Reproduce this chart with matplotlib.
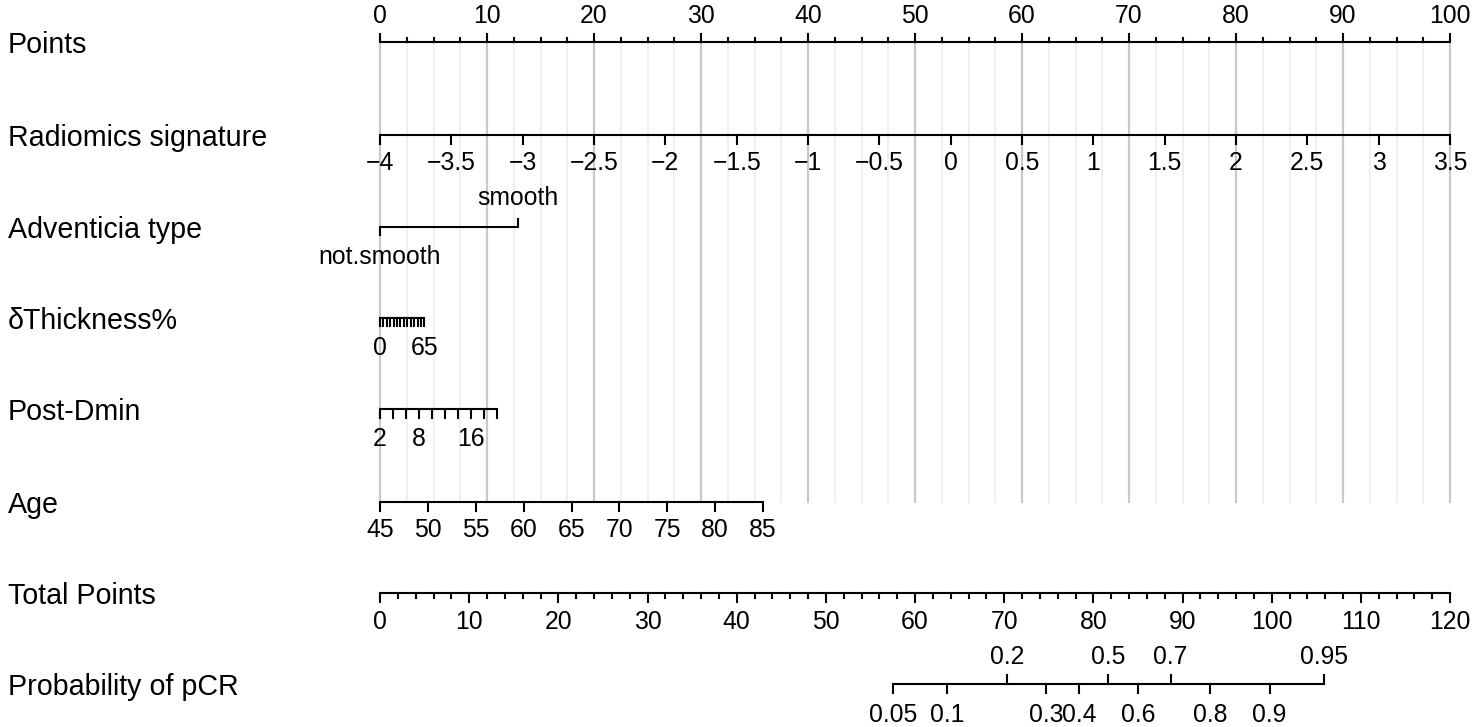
import numpy as np
import matplotlib
matplotlib.use("Agg")
import matplotlib.pyplot as plt

plt.rcParams['font.family'] = ['Liberation Sans', 'DejaVu Sans']

# ---- nomogram data ----
points_ticks = np.arange(0, 100.1, 2.5)
points_labels = np.arange(0, 101, 10)

radiomics_values = np.arange(-4, 3.51, 0.5)
radiomics_points = (0.0, 100.0)          # points at -4 and 3.5

adventicia_levels = ["not.smooth", "smooth"]
adventicia_points = [0.0, 12.9]

thickness_values = np.arange(0, 66, 5)
thickness_labels = [0, 65]
thickness_points = (0.0, 4.15)           # points at 0 and 65

dmin_values = np.arange(2, 21, 2)
dmin_labels = [2, 8, 16]
dmin_points = (0.0, 10.9)                # points at 2 and 20

age_values = np.arange(45, 86, 5)
age_points = (0.0, 35.8)                 # points at 45 and 85

total_ticks = np.arange(0, 121, 2)
total_labels = np.arange(0, 121, 10)
total_max = 120

prob_below = [0.05, 0.1, 0.3, 0.4, 0.6, 0.8, 0.9]
prob_above = [0.2, 0.5, 0.7, 0.95]
tp_at_p50 = 81.7        # total points where probability = 0.5
tp_per_logit = 8.22     # total points per unit of log-odds

row_names = ["Points", "Radiomics signature", "Adventicia type", "\u03b4Thickness%",
             "Post-Dmin", "Age", "Total Points", "Probability of pCR"]

# ---- layout ----
W, H = 1476, 727
X0, PX_PER_PT = 380, 10.7
row_y = [42, 135, 227, 318, 409, 502, 593, 684]
TICK_FS, LAB_FS = 17.8, 20.6
LW = 1.5


def lin(v, v0, v1, p0, p1):
    return p0 + (np.asarray(v, float) - v0) / (v1 - v0) * (p1 - p0)


def fmt(v):
    s = ("%g" % v)
    return s.replace("-", "\u2212")


fig = plt.figure(figsize=(W / 100, H / 100), dpi=100)
ax = fig.add_axes([0, 0, 1, 1])
ax.set_xlim(-X0 / PX_PER_PT, (W - X0) / PX_PER_PT)
ax.set_ylim(H, 0)
ax.axis("off")

# grid
for p in points_ticks:
    major = abs(p % 10) < 1e-9
    ax.plot([p, p], [row_y[0], row_y[5]], color="#c9c9c9" if major else "#ececec",
            lw=1.6 if major else 1.2, zorder=0)


def axis_line(y, xs):
    ax.plot([min(xs), max(xs)], [y, y], color="black", lw=LW, solid_capstyle="butt", zorder=2)


def ticks(y, xs, length):
    for x in xs:
        ax.plot([x, x], [y, y + length], color="black", lw=LW, zorder=2)


def labels(y, xs, texts, offset):
    for x, t in zip(xs, texts):
        ax.text(x, y + offset, t, ha="center", va="center", fontsize=TICK_FS)


# Points
y = row_y[0]
axis_line(y, points_ticks)
ticks(y, [p for p in points_ticks if p % 10 == 0], -8)
ticks(y, [p for p in points_ticks if p % 10 != 0], -4.5)
labels(y, points_labels, [fmt(v) for v in points_labels], -26)

# Radiomics signature
y = row_y[1]
xs = lin(radiomics_values, radiomics_values[0], radiomics_values[-1], *radiomics_points)
axis_line(y, xs)
ticks(y, xs, 9)
labels(y, xs, [fmt(v) for v in radiomics_values], 28)

# Adventicia type
y = row_y[2]
axis_line(y, adventicia_points)
ticks(y, [adventicia_points[0]], 8)
ticks(y, [adventicia_points[1]], -8)
labels(y, [adventicia_points[0]], [adventicia_levels[0]], 30)
labels(y, [adventicia_points[1]], [adventicia_levels[1]], -29)

# dThickness%
y = row_y[3]
xs = lin(thickness_values, 0, 65, *thickness_points)
axis_line(y, xs)
ticks(y, xs, 8)
labels(y, lin(thickness_labels, 0, 65, *thickness_points), [fmt(v) for v in thickness_labels], 30)

# Post-Dmin
y = row_y[4]
xs = lin(dmin_values, 2, 20, *dmin_points)
axis_line(y, xs)
ticks(y, xs, 9)
labels(y, lin(dmin_labels, 2, 20, *dmin_points), [fmt(v) for v in dmin_labels], 30)

# Age
y = row_y[5]
xs = lin(age_values, 45, 85, *age_points)
axis_line(y, xs)
ticks(y, xs, 9)
labels(y, xs, [fmt(v) for v in age_values], 28)

# Total Points
y = row_y[6]
scale = 100.0 / total_max
axis_line(y, total_ticks * scale)
ticks(y, [t * scale for t in total_ticks if t % 10 == 0], 9)
ticks(y, [t * scale for t in total_ticks if t % 10 != 0], 4.5)
labels(y, total_labels * scale, [fmt(v) for v in total_labels], 29)


def prob_x(p):
    p = np.asarray(p, float)
    return (tp_at_p50 + tp_per_logit * np.log(p / (1 - p))) * scale


# Probability of pCR
y = row_y[7]
xb, xa = prob_x(prob_below), prob_x(prob_above)
axis_line(y, np.concatenate([xb, xa]))
ticks(y, xb, 9)
ticks(y, xa, -9)
labels(y, xb, [fmt(v) for v in prob_below], 31)
labels(y, xa, [fmt(v) for v in prob_above], -27)

# row names
for name, yy in zip(row_names, row_y):
    ax.text(8 / W, yy + 3, name, transform=ax.get_yaxis_transform(),
            ha="left", va="center", fontsize=LAB_FS)

fig.savefig("out.png", dpi=100)
